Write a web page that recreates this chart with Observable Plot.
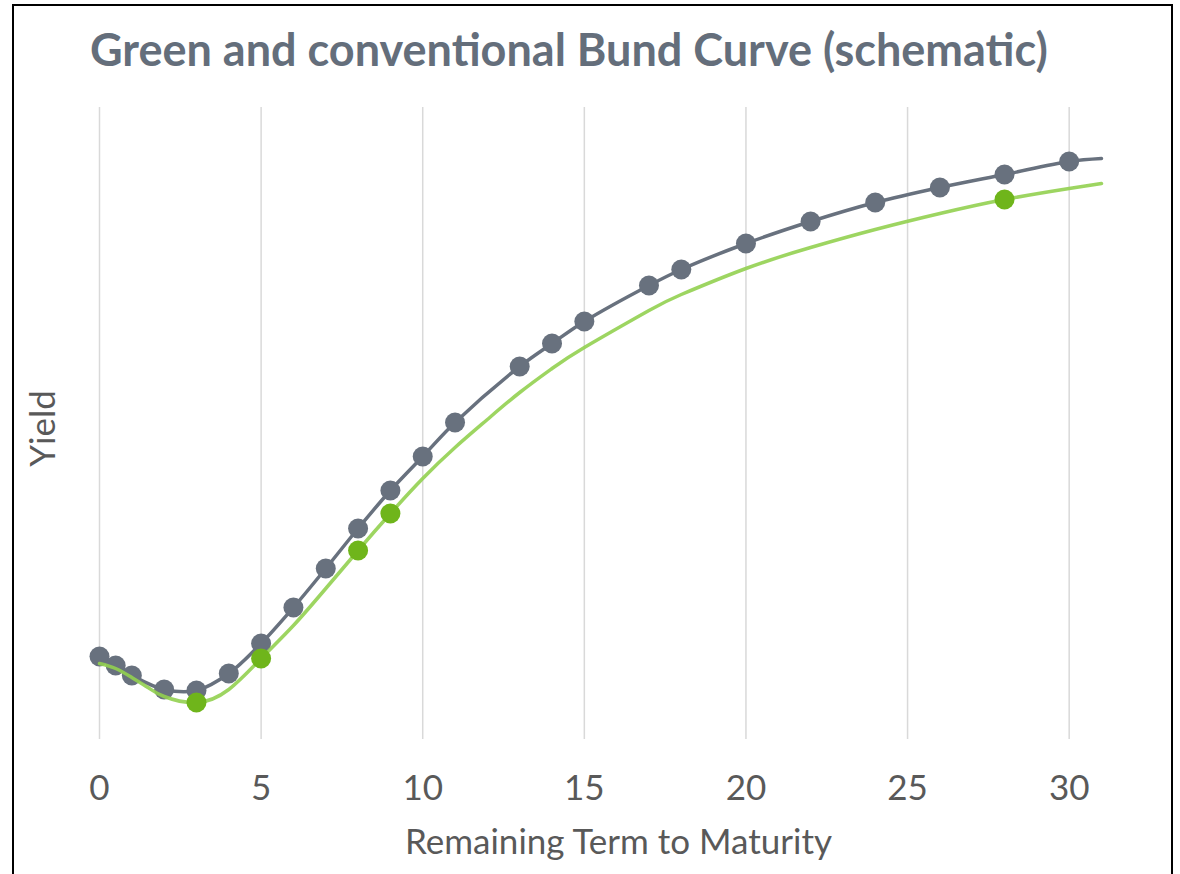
<!DOCTYPE html>
<html>
<head>
<meta charset="utf-8">
<script src="https://cdn.jsdelivr.net/npm/d3@7"></script>
<script src="https://cdn.jsdelivr.net/npm/@observablehq/plot@0.6"></script>
<style>
  html, body { margin: 0; padding: 0; background: #fff; }
  body { width: 1180px; height: 874px; overflow: hidden; position: relative; font-family: Lato, "Noto Sans", sans-serif; }
  #frame { position: absolute; left: 12px; top: 4px; width: 1161px; height: 900px; border: 2px solid #000; box-sizing: border-box; pointer-events: none; }
  #title { position: relative; height: 100px; }
  #title span { position: absolute; left: 90px; top: 27px; font-size: 45px; line-height: 45px; font-weight: 700; color: #646e7b; white-space: nowrap; }
  #chart svg { display: block; }
</style>
</head>
<body>
<div id="title"><span>Green and conventional Bund Curve (schematic)</span></div>
<div id="chart"></div>
<div id="frame"></div>
<script>
// Conventional Bund curve: observed bonds (dots) and the smoothed curve through them
const conventionalTerms  = [0, 0.5, 1, 2, 3, 4, 5, 6, 7, 8, 9, 10, 11, 13, 14, 15, 17, 18, 20, 22, 24, 26, 28, 30];
const conventionalYields = [0.415, 0.37, 0.32, 0.25, 0.245, 0.33, 0.48, 0.66, 0.855, 1.055, 1.245, 1.415, 1.585, 1.865, 1.98, 2.09, 2.27, 2.35, 2.48, 2.59, 2.685, 2.76, 2.825, 2.89];
const conventionalCurveEndTerm = 31;
const conventionalCurveEndYield = 2.905;

// Green Bund curve (fitted) and the green bonds (dots)
const greenCurveTerms  = [0, 0.5, 1, 1.5, 2, 3, 4, 5, 6, 7, 8, 9, 10, 11, 12, 13, 14, 15, 17, 18, 20, 22, 24, 26, 28, 30, 31];
const greenCurveYields = [0.38, 0.355, 0.31, 0.26, 0.215, 0.185, 0.25, 0.405, 0.57, 0.755, 0.945, 1.13, 1.305, 1.46, 1.6, 1.735, 1.855, 1.96, 2.145, 2.225, 2.355, 2.46, 2.55, 2.63, 2.70, 2.755, 2.78];
const greenTerms  = [3, 5, 8, 9, 28];
const greenYields = [0.185, 0.405, 0.945, 1.13, 2.70];

const xTicks = [0, 5, 10, 15, 20, 25, 30];
const xLabel = "Remaining Term to Maturity";
const yLabel = "Yield";

const conventionalDots = conventionalTerms.map((t, i) => ({term: t, yield: conventionalYields[i]}));
const conventionalLine = [...conventionalDots, {term: conventionalCurveEndTerm, yield: conventionalCurveEndYield}];
const greenLine = greenCurveTerms.map((t, i) => ({term: t, yield: greenCurveYields[i]}));
const greenDots = greenTerms.map((t, i) => ({term: t, yield: greenYields[i]}));

const grey = "#68717e";
const greenLineColor = "#92d050";
const greenDotColor = "#6fb51b";
const textColor = "#595959";

const chart = Plot.plot({
  width: 1180,
  height: 774,
  marginLeft: 99,
  marginRight: 79,
  marginTop: 7,
  marginBottom: 135,
  style: {fontFamily: "Lato, 'Noto Sans', sans-serif", fontSize: "35px", color: textColor, background: "transparent"},
  x: {domain: [0, 31], axis: null},
  y: {domain: [0, 3.16], axis: null},
  marks: [
    Plot.ruleX(xTicks, {stroke: "#d9d9d9", strokeWidth: 1.5}),
    Plot.axisX(xTicks, {tickSize: 0, tickPadding: 36, label: null, fontSize: 35, fill: textColor}),
    Plot.line(conventionalLine, {x: "term", y: "yield", curve: "catmull-rom", stroke: grey, strokeWidth: 3.5}),
    Plot.dot(conventionalDots, {x: "term", y: "yield", r: 10, fill: grey}),
    Plot.line(greenLine, {x: "term", y: "yield", curve: "natural", stroke: greenLineColor, strokeWidth: 3.5, strokeOpacity: 0.9}),
    Plot.dot(greenDots, {x: "term", y: "yield", r: 10, fill: greenDotColor}),
    Plot.text([xLabel], {frameAnchor: "bottom", dy: 114, dx: 18, fontSize: 35, fill: textColor}),
    Plot.text([yLabel], {frameAnchor: "left", textAnchor: "middle", rotate: -90, dx: -56, dy: 5, fontSize: 35, fill: textColor})
  ]
});
document.getElementById("chart").appendChild(chart);
</script>
</body>
</html>
